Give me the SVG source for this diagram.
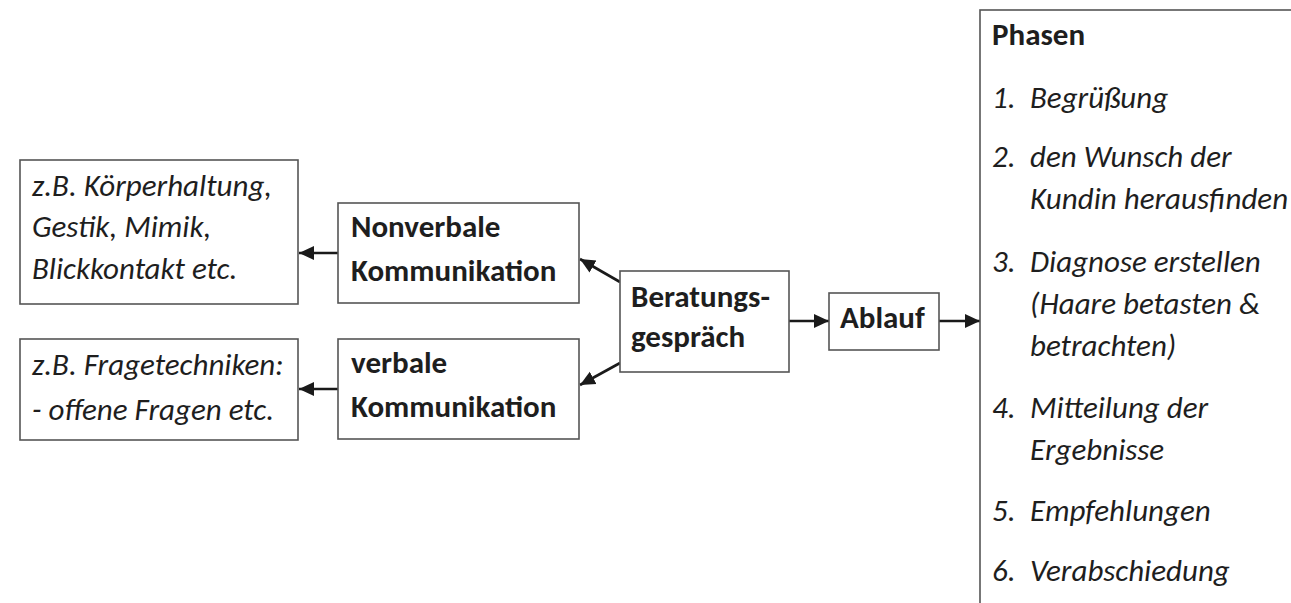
<svg xmlns="http://www.w3.org/2000/svg" width="1291" height="603" viewBox="0 0 1291 603">
  <style>
    .box { fill: #fff; stroke: #555; stroke-width: 1.6; }
    .t { font-family: Carlito, Lato, "Liberation Sans", sans-serif; font-size: 31px; fill: #1e1e1e; }
    .b { font-weight: bold; }
    .i { font-style: italic; }
    .conn { stroke: #1a1a1a; stroke-width: 2.6; fill: none; marker-end: url(#ah); }
  </style>
  <defs>
    <marker id="ah" markerUnits="userSpaceOnUse" markerWidth="16" markerHeight="16" viewBox="0 0 16 16" refX="15" refY="8" orient="auto">
      <path d="M0,1 L15,8 L0,15 Z" fill="#1a1a1a"/>
    </marker>
  </defs>
  <rect width="1291" height="603" fill="#fff"/>

  <g id="connectors">
    <line class="conn" x1="338" y1="253" x2="299" y2="253"/>
    <line class="conn" x1="338" y1="389" x2="299" y2="389"/>
    <line class="conn" x1="620" y1="282" x2="580" y2="259"/>
    <line class="conn" x1="620" y1="363" x2="580" y2="385"/>
    <line class="conn" x1="789" y1="321" x2="829" y2="321"/>
    <line class="conn" x1="939" y1="321" x2="980" y2="321"/>
  </g>

  <g id="koerpersprache">
    <rect class="box" x="20" y="160" width="278" height="144"/>
    <text class="t i" x="32" y="196">z.B. Körperhaltung,</text>
    <text class="t i" x="32" y="237">Gestik, Mimik,</text>
    <text class="t i" x="32" y="279">Blickkontakt etc.</text>
  </g>

  <g id="fragetechniken">
    <rect class="box" x="20" y="339" width="278" height="101"/>
    <text class="t i" x="32" y="375">z.B. Fragetechniken:</text>
    <text class="t i" x="32" y="420">- offene Fragen etc.</text>
  </g>

  <g id="nonverbale">
    <rect class="box" x="338" y="203" width="241" height="100"/>
    <text class="t b" x="351" y="237">Nonverbale</text>
    <text class="t b" x="351" y="281">Kommunikation</text>
  </g>

  <g id="verbale">
    <rect class="box" x="338" y="339" width="241" height="100"/>
    <text class="t b" x="351" y="373">verbale</text>
    <text class="t b" x="351" y="417">Kommunikation</text>
  </g>

  <g id="beratungsgespraech">
    <rect class="box" x="620" y="271" width="169" height="101"/>
    <text class="t b" x="631" y="307">Beratungs-</text>
    <text class="t b" x="631" y="347">gespräch</text>
  </g>

  <g id="ablauf">
    <rect class="box" x="829" y="293" width="110" height="57"/>
    <text class="t b" x="840" y="328">Ablauf</text>
  </g>

  <g id="phasen">
    <rect class="box" x="980" y="10" width="340" height="620"/>
    <text class="t b" x="992" y="45">Phasen</text>
    <text class="t i" x="992" y="108">1.</text>
    <text class="t i" x="1030" y="108">Begrüßung</text>
    <text class="t i" x="992" y="167">2.</text>
    <text class="t i" x="1030" y="167">den Wunsch der</text>
    <text class="t i" x="1030" y="209">Kundin herausfinden</text>
    <text class="t i" x="992" y="272">3.</text>
    <text class="t i" x="1030" y="272">Diagnose erstellen</text>
    <text class="t i" x="1030" y="314">(Haare betasten &amp;</text>
    <text class="t i" x="1030" y="356">betrachten)</text>
    <text class="t i" x="992" y="418">4.</text>
    <text class="t i" x="1030" y="418">Mitteilung der</text>
    <text class="t i" x="1030" y="460">Ergebnisse</text>
    <text class="t i" x="992" y="521">5.</text>
    <text class="t i" x="1030" y="521">Empfehlungen</text>
    <text class="t i" x="992" y="581">6.</text>
    <text class="t i" x="1030" y="581">Verabschiedung</text>
  </g>
</svg>
